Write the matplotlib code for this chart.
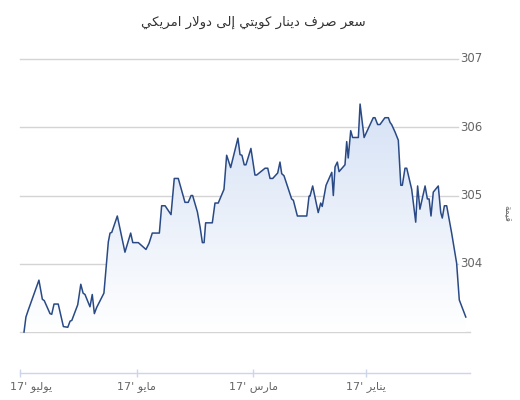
import numpy as np
import matplotlib
matplotlib.use("Agg")
import matplotlib.pyplot as plt
from matplotlib.patches import Polygon
from matplotlib.transforms import blended_transform_factory

# ---------------- data ----------------
title_text = "سعر صرف دينار كويتي إلى دولار امريكي"
y_label_text = "قيمة"
tick_days = [181, 120, 59, 0]  # days after 2017-01-01 (Jul, May, Mar, Jan)
tick_labels = ["يوليو '17", "مايو '17", "مارس '17", "يناير '17"]
y_ticks = [303, 304, 305, 306, 307]
y_tick_labels = ["", "304", "305", "306", "307"]

days = [178.9, 177.9, 176.7, 171.1, 169.3, 168.3, 165.3, 164.4, 163.2, 161.0,
        158.3, 156.0, 154.8, 153.9, 150.8, 149.2, 148.0, 147.0, 144.4, 143.2,
        142.1, 140.9, 137.1, 134.8, 133.9, 133.0, 130.1, 126.1, 123.1, 122.0,
        119.1, 115.1, 113.5, 111.8, 108.1, 106.9, 105.1, 102.0, 100.3, 98.2,
        94.7, 93.0, 91.5, 90.7, 88.2, 86.8, 85.6, 84.7, 83.9, 80.4,
        79.0, 77.3, 74.3, 72.9, 70.8, 67.0, 65.9, 64.9, 63.7, 62.8,
        60.2, 58.1, 57.2, 52.8, 51.4, 50.2, 48.8, 46.2, 45.0, 44.1,
        42.9, 38.9, 38.0, 35.9, 31.0, 29.8, 29.3, 27.9, 25.0, 23.7,
        22.9, 20.9, 17.9, 17.1, 16.2, 15.0, 14.1, 11.0, 10.1, 9.3,
        8.0, 7.0, 4.0, 3.1, 1.0, -3.8, -4.7, -6.1, -7.3, -9.9,
        -11.7, -12.6, -13.4, -15.2, -16.9, -18.2, -19.0, -20.4, -21.3, -23.9,
        -26.0, -27.0, -28.2, -30.9, -32.1, -33.0, -34.0, -35.2, -37.8, -39.1,
        -39.9, -41.0, -42.2, -44.8, -46.6, -47.4, -48.8, -52.2]
values = [303.00, 303.22, 303.32, 303.76, 303.48, 303.46, 303.27, 303.26, 303.41, 303.41,
          303.08, 303.07, 303.16, 303.17, 303.40, 303.70, 303.57, 303.55, 303.37, 303.55,
          303.27, 303.36, 303.57, 304.32, 304.45, 304.46, 304.70, 304.17, 304.45, 304.31,
          304.31, 304.21, 304.30, 304.45, 304.45, 304.85, 304.85, 304.72, 305.25, 305.25,
          304.90, 304.90, 305.00, 305.00, 304.76, 304.54, 304.31, 304.31, 304.60, 304.60,
          304.89, 304.89, 305.09, 305.59, 305.41, 305.84, 305.60, 305.59, 305.45, 305.45,
          305.69, 305.30, 305.30, 305.40, 305.40, 305.25, 305.25, 305.33, 305.49, 305.32,
          305.29, 304.95, 304.93, 304.70, 304.70, 304.99, 304.99, 305.14, 304.75, 304.89,
          304.84, 305.15, 305.34, 305.00, 305.42, 305.49, 305.35, 305.45, 305.79, 305.55,
          305.95, 305.85, 305.85, 306.34, 305.85, 306.14, 306.14, 306.04, 306.04, 306.14,
          306.14, 306.07, 306.04, 305.93, 305.81, 305.15, 305.15, 305.40, 305.40, 305.09,
          304.61, 305.14, 304.80, 305.14, 304.95, 304.95, 304.70, 305.05, 305.14, 304.75,
          304.67, 304.85, 304.85, 304.45, 304.15, 304.01, 303.47, 303.22]

# ---------------- minimal Arabic shaping (presentation forms) ----------------
FORMS = {  # iso, fin, ini, med (None = not dual-joining)
    'ا': ('\uFE8D', '\uFE8E', None, None),
    'إ': ('\uFE87', '\uFE88', None, None),
    'د': ('\uFEA9', '\uFEAA', None, None),
    'ر': ('\uFEAD', '\uFEAE', None, None),
    'و': ('\uFEED', '\uFEEE', None, None),
    'ة': ('\uFE93', '\uFE94', None, None),
    'ى': ('\uFEEF', '\uFEF0', None, None),
    'س': ('\uFEB1', '\uFEB2', '\uFEB3', '\uFEB4'),
    'ص': ('\uFEB9', '\uFEBA', '\uFEBB', '\uFEBC'),
    'ع': ('\uFEC9', '\uFECA', '\uFECB', '\uFECC'),
    'ف': ('\uFED1', '\uFED2', '\uFED3', '\uFED4'),
    'ق': ('\uFED5', '\uFED6', '\uFED7', '\uFED8'),
    'ك': ('\uFED9', '\uFEDA', '\uFEDB', '\uFEDC'),
    'ل': ('\uFEDD', '\uFEDE', '\uFEDF', '\uFEE0'),
    'م': ('\uFEE1', '\uFEE2', '\uFEE3', '\uFEE4'),
    'ن': ('\uFEE5', '\uFEE6', '\uFEE7', '\uFEE8'),
    'ي': ('\uFEF1', '\uFEF2', '\uFEF3', '\uFEF4'),
    'ت': ('\uFE95', '\uFE96', '\uFE97', '\uFE98'),
}
LAMALEF = {'ا': ('\uFEFB', '\uFEFC'), 'إ': ('\uFEF9', '\uFEFA')}


def shape_word(w):
    chars = list(w)
    out = []
    i = 0
    n = len(chars)
    prev_joins = False
    while i < n:
        c = chars[i]
        if c == 'ل' and i + 1 < n and chars[i + 1] in LAMALEF:
            out.append(LAMALEF[chars[i + 1]][1 if prev_joins else 0])
            prev_joins = False
            i += 2
            continue
        f = FORMS.get(c)
        if f is None:
            out.append(c)
            prev_joins = False
            i += 1
            continue
        nxt = chars[i + 1] if i + 1 < n else None
        next_joins = f[2] is not None and nxt in FORMS
        if prev_joins and next_joins:
            g = f[3]
        elif prev_joins:
            g = f[1]
        elif next_joins:
            g = f[2]
        else:
            g = f[0]
        out.append(g)
        prev_joins = f[2] is not None
        i += 1
    return ''.join(out)


def is_arabic(tok):
    return any('\u0600' <= ch <= '\u06FF' for ch in tok)


def visual(text):
    toks = text.split(' ')
    res = []
    for t in reversed(toks):
        if is_arabic(t):
            res.append(shape_word(t)[::-1])
        else:
            j = 0
            while j < len(t) and not t[j].isalnum():
                j += 1
            res.append(t[j:] + t[:j])
    return ' '.join(res)


# ---------------- figure ----------------
W, H = 520, 400
fig = plt.figure(figsize=(W / 100, H / 100), dpi=100)
ax = fig.add_axes([20 / W, 1 - 373 / H, 450 / W, (373 - 59) / H])

x = np.array(days)
y = np.array(values)
base = 303.0

# gradient area fill
verts = [(x[0], base)] + list(zip(x, y)) + [(x[-1], base)]
poly = Polygon(verts, closed=True, facecolor='none', edgecolor='none')
ax.add_patch(poly)
grad = np.linspace(0, 1, 256).reshape(-1, 1)
top_c = np.array([0.83, 0.88, 0.96])
bot_c = np.array([1.0, 1.0, 1.0])
img = (grad[..., None] * top_c + (1 - grad[..., None]) * bot_c)
im = ax.imshow(img, extent=[x.max(), x.min(), base, 306.5], origin='lower',
               aspect='auto', zorder=1)
im.set_clip_path(poly)
ax.set_xlim(181, -54.4)
ax.set_ylim(302.4, 307.0)

ax.plot(x, y, color='#2a4a86', lw=1.1, zorder=3)

# grid lines
for v in y_ticks:
    xmax = 1.0 if v == 303 else (458 - 20) / 450
    ax.axhline(v, xmin=0, xmax=xmax, color='#d4d4d4', lw=1.0, zorder=0.5,
               clip_on=False)

# y tick labels (right, inside)
tr_y = blended_transform_factory(ax.transAxes, ax.transData)
for v, lab in zip(y_ticks, y_tick_labels):
    if lab:
        ax.text((460 - 20) / 450, v, lab, transform=tr_y, ha='left',
                va='center', fontsize=8.5, color='#666666',
                family='DejaVu Sans')

for s in ['top', 'right', 'left']:
    ax.spines[s].set_visible(False)
ax.spines['bottom'].set_color('#ccd6eb')
ax.spines['bottom'].set_linewidth(1.0)
ax.set_yticks([])
ax.set_xticks(tick_days)
ax.set_xticklabels([''] * len(tick_days))
ax.tick_params(axis='x', direction='inout', length=6, width=1,
               color='#ccd6eb')

tr_x = blended_transform_factory(ax.transData, ax.transAxes)
for i, (d, lab) in enumerate(zip(tick_days, tick_labels)):
    if i == 0:
        ax.annotate(visual(lab), xy=(d, 0), xycoords=tr_x,
                    xytext=(-7.5, -10), textcoords='offset points',
                    ha='left', va='center', fontsize=8, color='#666666')
    else:
        ax.annotate(visual(lab), xy=(d, 0), xycoords=tr_x,
                    xytext=(0, -10), textcoords='offset points',
                    ha='center', va='center', fontsize=8, color='#666666')

fig.text(253 / W, 1 - 22 / H, visual(title_text), ha='center', va='center',
         fontsize=9.5, color='#333333')
fig.text(507 / W, 1 - 213 / H, visual(y_label_text), ha='center',
         va='center', rotation=270, fontsize=6.5, color='#666666')

fig.savefig('out.png', dpi=100)
